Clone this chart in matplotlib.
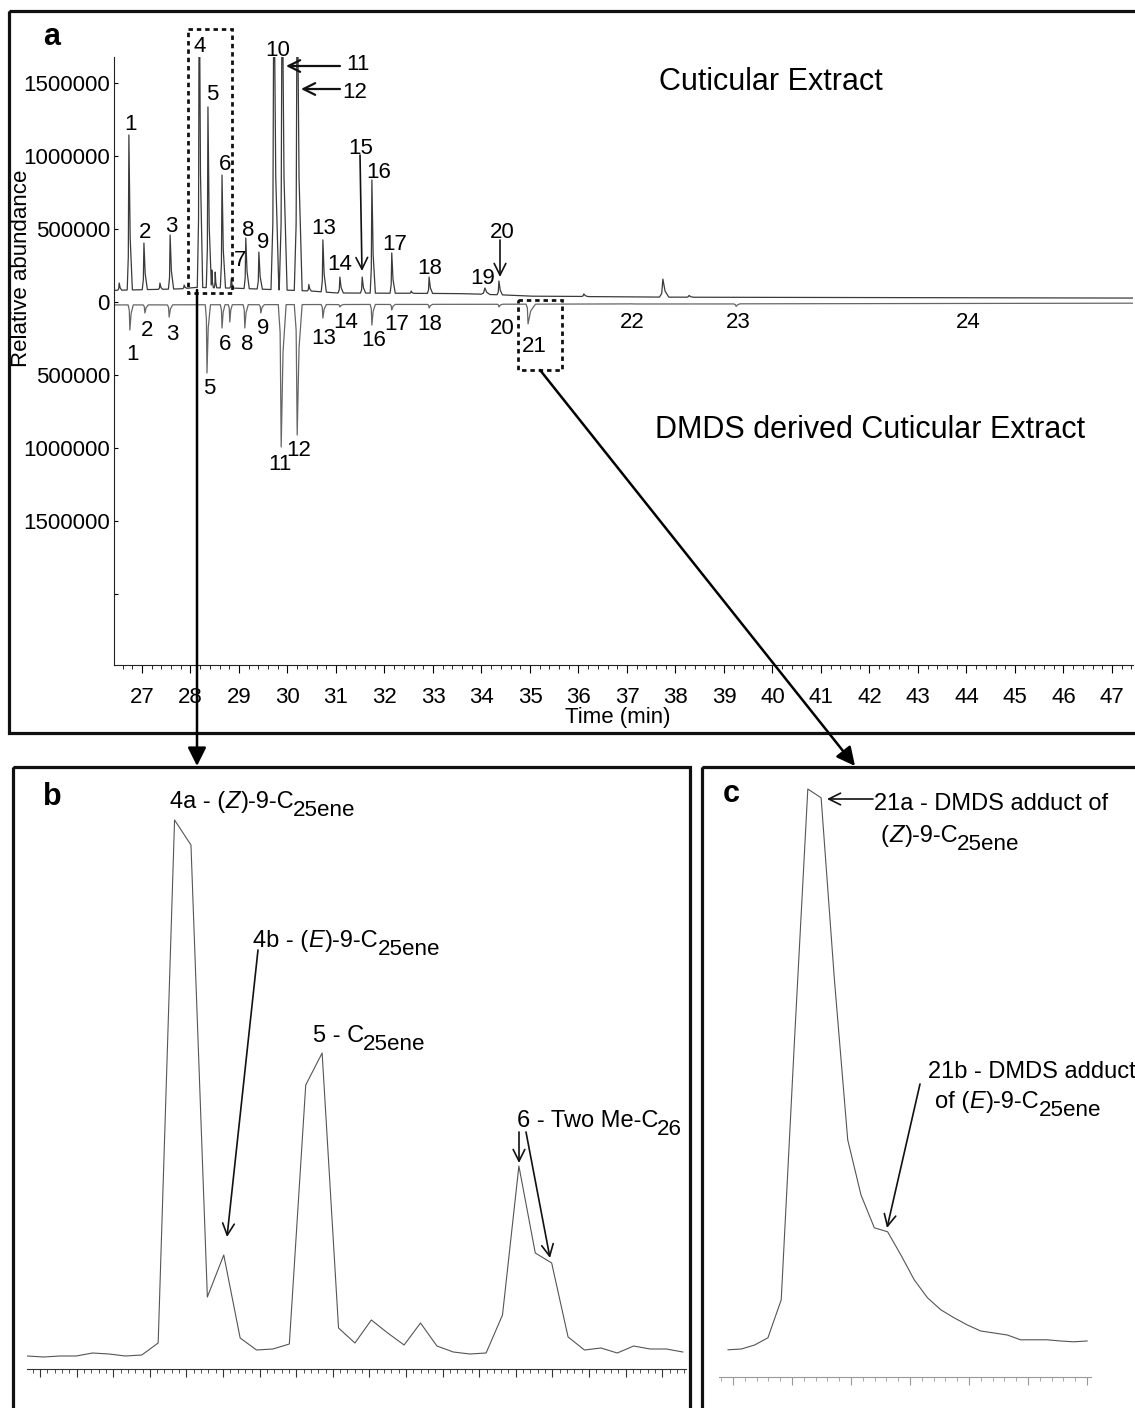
import numpy as np
import matplotlib
matplotlib.use('Agg')
import matplotlib.pyplot as plt
from matplotlib.patches import Rectangle, FancyArrowPatch
from matplotlib.ticker import MultipleLocator, FuncFormatter

plt.rcParams['font.family'] = ['Liberation Sans', 'DejaVu Sans']

W, H = 1135, 1408

# ---- panel a, upper trace: cuticular extract (time in min, abundance) ----
cut_base_t = [26.4, 27.8, 28.1, 28.9, 30.5, 31.0, 33.5, 34.5, 35.0, 38.0, 47.5]
cut_base_v = [80e3, 90e3, 100e3, 95e3, 75e3, 62e3, 58e3, 48e3, 40e3, 33e3, 27e3]
cut_rt = [26.53, 26.73, 27.04, 27.37, 27.58, 27.87, 28.18, 28.36, 28.44, 28.51,
          28.65, 28.84, 29.14, 29.41, 29.72, 29.89, 30.20, 30.44, 30.73, 31.08,
          31.54, 31.74, 32.15, 32.55, 32.92, 34.07, 34.36, 36.11, 37.74, 38.28]
cut_apex = [130e3, 1144e3, 404e3, 130e3, 459e3, 116e3, 2400e3, 1336e3, 219e3, 205e3,
            870e3, 160e3, 438e3, 342e3, 2400e3, 2400e3, 2400e3, 120e3, 425e3, 171e3,
            171e3, 836e3, 336e3, 75e3, 171e3, 96e3, 144e3, 55e3, 157e3, 45e3]
cut_wl = [0.03, 0.035, 0.035, 0.03, 0.035, 0.03, 0.04, 0.035, 0.02, 0.02,
          0.035, 0.03, 0.035, 0.035, 0.06, 0.06, 0.06, 0.03, 0.035, 0.035,
          0.035, 0.035, 0.035, 0.03, 0.035, 0.08, 0.04, 0.05, 0.07, 0.05]
cut_wr = [0.05, 0.07, 0.07, 0.05, 0.07, 0.05, 0.07, 0.07, 0.03, 0.03,
          0.07, 0.05, 0.07, 0.07, 0.10, 0.10, 0.10, 0.05, 0.07, 0.07,
          0.07, 0.07, 0.07, 0.05, 0.07, 0.10, 0.07, 0.08, 0.12, 0.08]

# ---- panel a, lower trace: DMDS derived extract (plotted negative) ----
dmds_base_t = [26.4, 34.5, 47.5]
dmds_base_v = [-20e3, -15e3, -8e3]
dmds_rt = [26.75, 27.06, 27.56, 28.34, 28.65, 28.81, 29.12, 29.45, 29.87, 30.20,
           30.73, 31.08, 31.74, 32.15, 32.92, 34.36, 34.96, 37.08, 39.25, 44.0]
dmds_apex = [-192e3, -75e3, -103e3, -486e3, -178e3, -137e3, -178e3, -75e3, -993e3, -911e3,
             -110e3, -34e3, -158e3, -55e3, -41e3, -34e3, -150e3, -12e3, -30e3, -10e3]
dmds_wl = [0.035, 0.035, 0.035, 0.035, 0.035, 0.03, 0.035, 0.035, 0.06, 0.06,
           0.035, 0.035, 0.035, 0.035, 0.035, 0.035, 0.04, 0.05, 0.06, 0.05]
dmds_wr = [0.07, 0.07, 0.07, 0.07, 0.06, 0.05, 0.07, 0.07, 0.10, 0.10,
           0.07, 0.07, 0.07, 0.07, 0.07, 0.07, 0.15, 0.08, 0.08, 0.08]

# ---- panel b: zoom of peaks 4-6, scans every 0.0224 min ----
b_t0, b_dt = 27.9822, 0.0224
b_abund = [39, 36, 39, 39, 48, 45, 39, 42, 78, 1647, 1572, 216, 342, 93, 57, 60, 75,
           852, 948, 123, 78, 147, 108, 72, 138, 69, 51, 45, 48, 162, 609, 348, 318,
           96, 57, 63, 48, 69, 60, 60, 51]

# ---- panel c: zoom of peak 21 ----
c_t0, c_dt = 34.8916, 0.02254
c_abund = [6.8, 7.0, 8.0, 9.8, 19.3, 84.3, 147.0, 144.8, 99.3, 59.3, 45.5, 37.3, 36.3,
           30.5, 24.3, 19.8, 16.8, 14.8, 13.0, 11.5, 11.0, 10.5, 9.3, 9.3, 9.3, 9.0,
           8.8, 9.0]


def chromatogram(tg, base_t, base_v, rt, apex, wl, wr):
    y = np.interp(tg, base_t, base_v)
    for t0, a, l, r in zip(rt, apex, wl, wr):
        h = a - np.interp(t0, base_t, base_v)
        y = y + h * np.interp(tg - t0, [-l, -0.35 * l, 0, 0.35 * r, r],
                              [0, 0.2, 1, 0.35, 0])
    return y


fig = plt.figure(figsize=(W / 100, H / 100), dpi=100)


def px_axes(x0, y0, x1, y1):
    return fig.add_axes([x0 / W, 1 - y1 / H, (x1 - x0) / W, (y1 - y0) / H])


# ---------------- panel a ----------------
ax = px_axes(114, 57, 1133, 665)
tg = np.arange(26.4, 47.5, 0.002)
ax.plot(tg, chromatogram(tg, cut_base_t, cut_base_v, cut_rt, cut_apex, cut_wl, cut_wr),
        color='#3a3a3a', lw=0.9)
ax.plot(tg, chromatogram(tg, dmds_base_t, dmds_base_v, dmds_rt, dmds_apex, dmds_wl, dmds_wr),
        color='#666666', lw=0.9)
ax.set_xlim(26.423, 47.433)
ax.set_ylim(-2.486e6, 1.678e6)
for s in ['top', 'right']:
    ax.spines[s].set_visible(False)
for s in ['left', 'bottom']:
    ax.spines[s].set_linewidth(0.8)
    ax.spines[s].set_color('#222222')
ax.set_xticks(range(27, 48))
ax.xaxis.set_minor_locator(MultipleLocator(0.2))
ax.tick_params(axis='x', which='major', direction='out', length=6, width=0.8,
               labelsize=16, pad=10)
ax.tick_params(axis='x', which='minor', direction='out', length=3, width=0.6)
ax.set_yticks([-2e6, -1.5e6, -1e6, -5e5, 0, 5e5, 1e6, 1.5e6])
ax.yaxis.set_major_formatter(FuncFormatter(lambda v, p: '' if v < -1.9e6 else f'{abs(v):.0f}'))
ax.tick_params(axis='y', direction='in', length=3, width=0.8, labelsize=16, pad=3)
ax.patch.set_alpha(0)

# ---------------- panel b ----------------
axb = px_axes(27, 800, 686, 1369)
axb.plot(b_t0 + b_dt * np.arange(len(b_abund)), np.array(b_abund) * 1e3,
         color='#555555', lw=0.8)
axb.set_xlim(27.9822, 28.8825)
axb.set_ylim(0, 1707e3)

# ---------------- panel c ----------------
axc = px_axes(719, 780, 1091, 1377)
axc.plot(c_t0 + c_dt * np.arange(len(c_abund)), np.array(c_abund) * 1e3,
         color='#555555', lw=0.8)
axc.set_xlim(34.8763, 35.5068)
axc.set_ylim(0, 149.25e3)

for a_, col, major in [(axb, '#333333', 0.05), (axc, '#999999', 0.1)]:
    for s in ['top', 'right', 'left']:
        a_.spines[s].set_visible(False)
    a_.spines['bottom'].set_color(col)
    a_.spines['bottom'].set_linewidth(0.8)
    a_.set_yticks([])
    a_.xaxis.set_major_locator(MultipleLocator(major))
    a_.xaxis.set_minor_locator(MultipleLocator(major / 5))
    a_.tick_params(axis='x', which='major', length=6, width=0.8, color=col,
                   labelbottom=False)
    a_.tick_params(axis='x', which='minor', length=3, width=0.6, color=col)
    a_.patch.set_alpha(0)

# ---------------- overlay in pixel coordinates ----------------
ov = fig.add_axes([0, 0, 1, 1])
ov.set_xlim(0, W)
ov.set_ylim(H, 0)
ov.set_axis_off()

# panel frames
for x0, y0, x1, y1 in [(9, 11, 1145, 733), (13, 767, 690, 1425), (702, 767, 1145, 1425)]:
    ov.add_patch(Rectangle((x0, y0), x1 - x0, y1 - y0, fill=False, lw=2.3, ec='#111111'))
# dotted zoom boxes
for x0, y0, x1, y1 in [(188, 29, 232, 293), (518, 300, 562, 370)]:
    ov.add_patch(Rectangle((x0, y0), x1 - x0, y1 - y0, fill=False, lw=2.0,
                           ls=(0, (1.6, 1.4)), ec='#111111'))
# connectors to b and c
for p0, p1 in [((197, 290), (197, 766)), ((540, 370), (855, 766))]:
    ov.add_patch(FancyArrowPatch(p0, p1, arrowstyle='-|>,head_length=0.7,head_width=0.35',
                                 mutation_scale=16, lw=1.8, color='k',
                                 shrinkA=0, shrinkB=0))

ov.text(43, 45, 'a', fontsize=22, fontweight='bold', va='baseline')
ov.text(43, 805, 'b', fontsize=22, fontweight='bold', va='baseline')
ov.text(723, 802, 'c', fontsize=22, fontweight='bold', va='baseline')
ov.text(659, 90, 'Cuticular Extract', fontsize=22, va='baseline')
ov.text(655, 438, 'DMDS derived Cuticular Extract', fontsize=22, va='baseline')
ov.text(618, 718, 'Time (min)', fontsize=16, ha='center', va='center')
ov.text(22, 268, 'Relative abundance', fontsize=16, rotation=90, ha='center', va='center')

# peak numbers (label centres in px)
peak_labels = [('1', 130, 123), ('2', 145, 230), ('3', 171, 225), ('4', 200, 45),
               ('5', 212, 93), ('6', 225, 163), ('7', 240, 258), ('8', 248, 228),
               ('9', 263, 240), ('10', 278, 48), ('11', 358, 62), ('12', 355, 90),
               ('13', 324, 227), ('14', 340, 262), ('15', 361, 146), ('16', 379, 170),
               ('17', 395, 243), ('18', 430, 267), ('19', 483, 277), ('20', 502, 230),
               ('1', 132, 352), ('2', 147, 328), ('3', 172, 333), ('5', 209, 387),
               ('6', 225, 343), ('8', 247, 342), ('9', 263, 327), ('11', 280, 463),
               ('12', 299, 448), ('13', 324, 337), ('14', 346, 320), ('16', 374, 339),
               ('17', 397, 323), ('18', 430, 322), ('20', 502, 327), ('21', 534, 345),
               ('22', 632, 320), ('23', 738, 320), ('24', 968, 320)]
for s, x, y in peak_labels:
    ov.text(x, y + 7.5, s, fontsize=16, ha='center', va='baseline')


def pointer(p0, p1, lw=1.2):
    ov.add_patch(FancyArrowPatch(p0, p1, arrowstyle='->,head_length=0.6,head_width=0.3',
                                 mutation_scale=14, lw=lw, color='#111111',
                                 shrinkA=0, shrinkB=0))


pointer((340, 66), (286, 66), 1.6)
pointer((340, 89), (301, 89), 1.6)
pointer((360, 155), (362, 271))
pointer((500, 240), (500, 277))
pointer((258, 950), (227, 1237))
pointer((519, 1132), (519, 1163))
pointer((526, 1132), (550, 1258))
pointer((873, 799), (827, 799))
pointer((920, 1084), (887, 1228))

renderer = fig.canvas.get_renderer()


def chem_label(x, y, parts, size=17):
    for s, kind in parts:
        kw = dict(fontsize=size, ha='left', va='baseline')
        dy = 0
        if kind == 'it':
            kw['style'] = 'italic'
        if kind == 'sub':
            dy = 8
            kw['fontsize'] = size * 0.95
            x -= 1
        t = ov.text(x, y + dy, s, **kw)
        x += t.get_window_extent(renderer).width
        if kind == 'it':
            x += 1


chem_label(170, 808, [('4a - (', ''), ('Z', 'it'), (')-9-C', ''), ('25ene', 'sub')])
chem_label(253, 947, [('4b - (', ''), ('E', 'it'), (')-9-C', ''), ('25ene', 'sub')])
chem_label(313, 1042, [('5 - C', ''), ('25ene', 'sub')])
chem_label(517, 1127, [('6 - Two Me-C', ''), ('26', 'sub')])
chem_label(874, 810, [('21a - DMDS adduct of', '')])
chem_label(881, 842, [('(', ''), ('Z', 'it'), (')-9-C', ''), ('25ene', 'sub')])
chem_label(928, 1078, [('21b - DMDS adduct', '')])
chem_label(935, 1108, [('of (', ''), ('E', 'it'), (')-9-C', ''), ('25ene', 'sub')])

fig.savefig('out.png', dpi=100)
